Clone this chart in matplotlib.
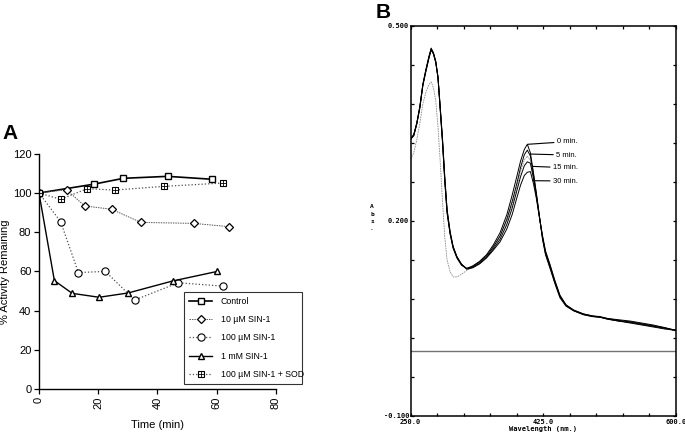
import matplotlib
matplotlib.use("Agg")
import matplotlib.pyplot as plt
from matplotlib.ticker import FixedLocator, FuncFormatter
from matplotlib.legend_handler import HandlerTuple

plt.rcParams["font.family"] = ["Liberation Sans", "DejaVu Sans"]

# ---- panel A: % activity remaining vs time ----
CTRL_T = [0, 18.5, 28.5, 43.5, 58.5]
CTRL_Y = [100, 104.5, 107.5, 108.5, 107]
SIN10_T = [0, 9.3, 15.4, 24.5, 34.4, 52.3, 64.3]
SIN10_Y = [100, 101.7, 93.4, 91.7, 85, 84.5, 82.8]
SIN100_T = [0, 7.3, 13.3, 22.4, 32.3, 47, 62]
SIN100_Y = [100, 85.4, 59.4, 60, 45.4, 54.2, 52.5]
SIN1M_T = [0, 5.2, 11.2, 20.3, 30.1, 45.1, 60.2]
SIN1M_Y = [100, 55.3, 48.8, 46.8, 49, 55.1, 60]
SOD_T = [0, 7.3, 16.3, 25.5, 42.3, 62.2]
SOD_Y = [100, 96.8, 102.2, 101.5, 103.4, 105.1]

# ---- panel B: absorbance spectra ----
WAVELENGTH = [250, 254, 258, 262, 266, 270, 274, 277, 280, 283, 286, 289, 292,
              295, 298, 302, 306, 311, 317, 324, 332, 341, 350, 359, 368, 377,
              384, 390, 395, 400, 404, 408, 412, 416, 420, 424, 428, 434, 440,
              447, 455, 465, 478, 490, 500, 510, 525, 540, 555, 570, 585, 600]
ABS_0 = [0.327, 0.332, 0.350, 0.375, 0.410, 0.432, 0.452, 0.466, 0.458, 0.445,
         0.420, 0.370, 0.320, 0.260, 0.212, 0.180, 0.158, 0.143, 0.132, 0.127,
         0.131, 0.138, 0.148, 0.163, 0.182, 0.210, 0.240, 0.268, 0.292, 0.310,
         0.318, 0.305, 0.275, 0.242, 0.207, 0.172, 0.148, 0.127, 0.105, 0.082,
         0.069, 0.062, 0.056, 0.053, 0.052, 0.049, 0.046, 0.043, 0.040, 0.037,
         0.034, 0.032]
ABS_5 = [0.327, 0.333, 0.351, 0.376, 0.410, 0.433, 0.453, 0.465, 0.459, 0.446,
         0.421, 0.372, 0.322, 0.262, 0.214, 0.181, 0.159, 0.144, 0.133, 0.127,
         0.130, 0.137, 0.146, 0.160, 0.177, 0.203, 0.230, 0.257, 0.282, 0.302,
         0.309, 0.300, 0.272, 0.241, 0.207, 0.174, 0.150, 0.129, 0.107, 0.084,
         0.070, 0.062, 0.056, 0.053, 0.052, 0.049, 0.046, 0.044, 0.041, 0.038,
         0.035, 0.032]
ABS_15 = [0.326, 0.332, 0.350, 0.374, 0.409, 0.431, 0.451, 0.464, 0.457, 0.445,
          0.421, 0.373, 0.324, 0.265, 0.216, 0.182, 0.160, 0.145, 0.133, 0.126,
          0.129, 0.135, 0.144, 0.157, 0.172, 0.195, 0.220, 0.246, 0.268, 0.285,
          0.291, 0.289, 0.266, 0.238, 0.206, 0.176, 0.152, 0.131, 0.108, 0.085,
          0.071, 0.063, 0.057, 0.054, 0.052, 0.050, 0.047, 0.045, 0.042, 0.039,
          0.036, 0.032]
ABS_30 = [0.326, 0.331, 0.349, 0.374, 0.408, 0.430, 0.450, 0.463, 0.457, 0.444,
          0.422, 0.375, 0.326, 0.268, 0.218, 0.184, 0.161, 0.145, 0.134, 0.126,
          0.128, 0.134, 0.143, 0.155, 0.168, 0.188, 0.210, 0.235, 0.255, 0.270,
          0.275, 0.276, 0.258, 0.234, 0.205, 0.178, 0.154, 0.133, 0.110, 0.086,
          0.071, 0.063, 0.057, 0.054, 0.053, 0.050, 0.048, 0.046, 0.043, 0.040,
          0.036, 0.031]
ABS_REF = [0.295, 0.305, 0.325, 0.350, 0.380, 0.398, 0.410, 0.414, 0.405, 0.385,
           0.345, 0.290, 0.230, 0.175, 0.140, 0.122, 0.114, 0.114, 0.118, 0.124,
           0.129, 0.136, 0.146, 0.160, 0.176, 0.200, 0.226, 0.252, 0.276, 0.294,
           0.300, 0.293, 0.268, 0.238, 0.205, 0.174, 0.150, 0.129, 0.107, 0.084,
           0.070, 0.062, 0.056, 0.053, 0.052, 0.049, 0.046, 0.044, 0.041, 0.038,
           0.034, 0.031]
SPEC_LABELS = ["0 min.", "5 min.", "15 min.", "30 min."]
LABEL_XY = [(442.8, 0.322), (441.9, 0.3015), (437.6, 0.282), (437.6, 0.2615)]
LEADER_XY = [(404.5, 0.318), (408, 0.303), (411.5, 0.284), (411.5, 0.262)]


def main() -> None:
    fig = plt.figure(figsize=(6.85, 4.34), dpi=100)

    # 1. Panel A
    ax = fig.add_axes([0.0569, 0.1037, 0.3460, 0.5419])
    ctrl, = ax.plot(CTRL_T, CTRL_Y, "-", color="black", lw=1.2, marker="s",
                    ms=5, mfc="white", mec="black", mew=1.0, label="Control")
    s10, = ax.plot(SIN10_T, SIN10_Y, color="0.35", lw=0.7, ls=(0, (1.5, 1)),
                   marker="D", ms=3.6, mfc="white", mec="black", mew=0.9,
                   label="10 µM SIN-1")
    s100, = ax.plot(SIN100_T, SIN100_Y, ":", color="0.3", lw=0.9, marker="o",
                    ms=5.2, mfc="white", mec="black", mew=0.8, label="100 µM SIN-1")
    s1m, = ax.plot(SIN1M_T, SIN1M_Y, "-", color="black", lw=1.0, marker="^",
                   ms=5, mfc="white", mec="black", mew=1.0, label="1 mM SIN-1")
    sod, = ax.plot(SOD_T, SOD_Y, ":", color="0.3", lw=0.9, marker="s",
                   ms=4.2, mfc="white", mec="black", mew=0.8)
    sodp, = ax.plot(SOD_T, SOD_Y, "none", marker="+", ms=4.2, mec="black", mew=0.6)

    ax.set_xlim(0, 80)
    ax.set_ylim(0, 120)
    ax.set_xticks([0, 20, 40, 60, 80])
    ax.set_yticks([0, 20, 40, 60, 80, 100, 120])
    ax.tick_params(direction="out", length=3.5, width=0.9, labelsize=8, pad=2)
    ax.tick_params(axis="x", labelrotation=90)
    for side in ("top", "right"):
        ax.spines[side].set_visible(False)
    for side in ("left", "bottom"):
        ax.spines[side].set_linewidth(1.0)
    ax.set_xlabel("Time (min)", fontsize=8, labelpad=8)
    ax.set_ylabel("% Activity Remaining", fontsize=8, labelpad=2)

    leg = ax.legend([ctrl, s10, s100, s1m, (sod, sodp)],
                    ["Control", "10 µM SIN-1", "100 µM SIN-1", "1 mM SIN-1",
                     "100 µM SIN-1 + SOD"],
                    handler_map={tuple: HandlerTuple(ndivide=1, pad=0)},
                    loc="lower left", bbox_to_anchor=(0.612, 0.021, 0.498, 0.387),
                    mode="expand", fontsize=6.3, frameon=True, fancybox=False,
                    handlelength=2.6, handletextpad=1.0, borderpad=0.6,
                    labelspacing=1.05, borderaxespad=0)
    leg.get_frame().set_edgecolor("black")
    leg.get_frame().set_linewidth(0.8)
    fig.text(0.004, 0.679, "A", fontsize=15, fontweight="bold", va="baseline")

    # 2. Panel B
    bx = fig.add_axes([0.5996, 0.0415, 0.3869, 0.8986])
    bx.plot(WAVELENGTH, ABS_REF, color="0.55", lw=0.6, ls=(0, (2, 1)))
    for ys in (ABS_30, ABS_15, ABS_5, ABS_0):
        bx.plot(WAVELENGTH, ys, color="black", lw=0.7)
    bx.axhline(0.0, color="0.45", lw=1.0)
    bx.set_xlim(250, 600)
    bx.set_ylim(-0.1, 0.5)

    xt = [250 + 35 * i for i in range(11)]
    yt = [-0.1 + 0.06 * i for i in range(11)]
    bx.xaxis.set_major_locator(FixedLocator(xt))
    bx.yaxis.set_major_locator(FixedLocator(yt))
    bx.xaxis.set_major_formatter(FuncFormatter(
        lambda v, p: f"{v:.1f}" if p in (0, 5, 10) else ""))
    bx.yaxis.set_major_formatter(FuncFormatter(
        lambda v, p: f"{v:.3f}" if p in (0, 5, 10) else ""))
    bx.tick_params(direction="in", length=2.5, width=0.9, top=True, right=True,
                   labelsize=5, pad=1)
    bx.tick_params(axis="x", pad=2.5)
    for lab in bx.get_xticklabels() + bx.get_yticklabels():
        lab.set_family(["DejaVu Sans Mono"])
        lab.set_fontweight("bold")
    for sp in bx.spines.values():
        sp.set_linewidth(1.1)
    bx.set_xlabel("Wavelength (nm.)", fontsize=5, family=["DejaVu Sans Mono"],
                  fontweight="bold", labelpad=0.5)
    fig.text(0.543, 0.498, "A\nb\ns\n.", fontsize=4.5, family=["DejaVu Sans Mono"],
             fontweight="bold", ha="center", va="center", linespacing=1.6)

    for lab, (tx, ty), (lx, ly) in zip(SPEC_LABELS, LABEL_XY, LEADER_XY):
        bx.annotate(lab, xy=(lx, ly), xytext=(tx, ty), fontsize=5.5,
                    ha="left", va="center",
                    arrowprops=dict(arrowstyle="-", lw=0.8, color="black",
                                    shrinkA=0, shrinkB=0))
    fig.text(0.549, 0.958, "B", fontsize=15, fontweight="bold", va="baseline")

    fig.savefig("out.png", dpi=100)
    plt.close(fig)


if __name__ == "__main__":
    main()
